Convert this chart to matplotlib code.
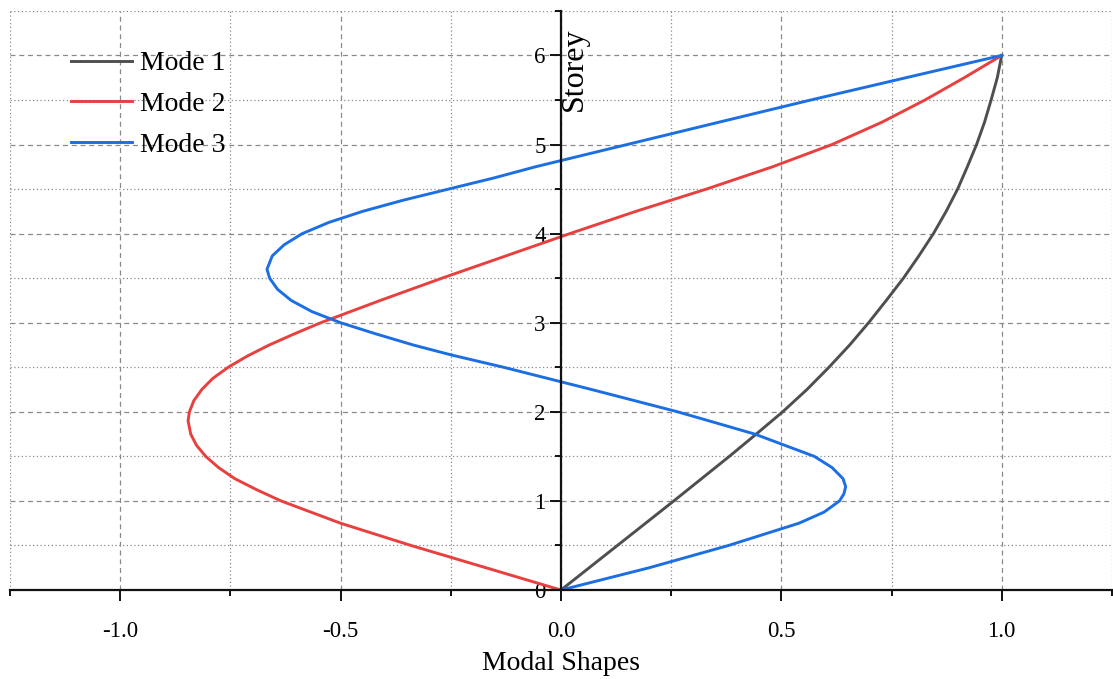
import matplotlib
matplotlib.use('Agg')
from matplotlib import pyplot as plt
from matplotlib.ticker import MultipleLocator, FormatStrFormatter

plt.rcParams['font.family'] = ['Liberation Serif', 'DejaVu Serif']
plt.rcParams['axes.unicode_minus'] = False

# values, each mode with its own storey levels
storey1 = [0, 0.25, 0.5, 0.75, 1.0, 1.25, 1.5, 1.75, 2.0, 2.25, 2.5, 2.75, 3.0, 3.25,
           3.5, 3.75, 4.0, 4.25, 4.5, 4.75, 5.0, 5.25, 5.5, 5.75, 6.0]
mode1 = [0, 0.064, 0.128, 0.192, 0.256, 0.319, 0.382, 0.443, 0.503, 0.558, 0.608, 0.655, 0.698, 0.738,
         0.777, 0.812, 0.845, 0.874, 0.900, 0.922, 0.943, 0.961, 0.976, 0.99, 1.0]

storey2 = [0, 0.25, 0.5, 0.75, 1.0, 1.125, 1.25, 1.375, 1.5, 1.625, 1.75, 1.9, 2.0, 2.125, 2.25, 2.375,
           2.5, 2.625, 2.75, 2.875, 3.0, 3.25, 3.5, 3.75, 4.0, 4.25, 4.5, 4.75, 5.0, 5.25, 5.5, 5.75, 6.0]
mode2 = [0, -0.17, -0.34, -0.50, -0.635, -0.69, -0.74, -0.777, -0.806, -0.827, -0.84, -0.846, -0.843, -0.833, -0.815, -0.79,
         -0.755, -0.712, -0.662, -0.605, -0.545, -0.41, -0.27, -0.125, 0.02, 0.17, 0.33, 0.48, 0.615, 0.728, 0.826, 0.915, 1.0]

storey3 = [0, 0.25, 0.5, 0.75, 0.875, 1.0, 1.08, 1.16, 1.25, 1.375, 1.5, 1.75, 2.0, 2.25, 2.5, 2.64, 2.75,
           2.875, 3.0, 3.125, 3.25, 3.375, 3.5, 3.6, 3.75, 3.875, 4.0, 4.125, 4.25, 4.375, 4.5, 4.625, 4.75,
           5.0, 5.25, 5.5, 5.75, 6.0]
mode3 = [0, 0.2, 0.38, 0.54, 0.597, 0.632, 0.642, 0.646, 0.64, 0.615, 0.575, 0.44, 0.265, 0.07, -0.13, -0.25, -0.335,
         -0.42, -0.50, -0.565, -0.612, -0.643, -0.661, -0.667, -0.655, -0.628, -0.587, -0.527, -0.45, -0.358, -0.255, -0.152, -0.058,
         0.15, 0.358, 0.567, 0.783, 1.0]

labels = ['Mode 1', 'Mode 2', 'Mode 3']
colors = ['#4f4f4f', '#e8403f', '#1b6fe2']

fig = plt.figure(figsize=(11.13, 6.79), dpi=100)
ax = fig.add_axes([0.009, 0.131, 0.99, 0.853])

for ys, xs, lab, c in zip([storey1, storey2, storey3], [mode1, mode2, mode3], labels, colors):
    ax.plot(xs, ys, color=c, lw=2.1, label=lab, solid_joinstyle='round')

ax.set_xlim(-1.25, 1.25)
ax.set_ylim(0, 6.5)

# axes cross at the origin
ax.spines['left'].set_position(('data', 0))
ax.spines['bottom'].set_position(('data', 0))
ax.spines['top'].set_visible(False)
ax.spines['right'].set_visible(False)
for s in ['left', 'bottom']:
    ax.spines[s].set_linewidth(1.6)
    ax.spines[s].set_color('#111111')

ax.xaxis.set_major_locator(MultipleLocator(0.5))
ax.xaxis.set_minor_locator(MultipleLocator(0.25))
ax.yaxis.set_major_locator(MultipleLocator(1))
ax.yaxis.set_minor_locator(MultipleLocator(0.5))
ax.xaxis.set_major_formatter(FormatStrFormatter('%.1f'))
ax.yaxis.set_major_formatter(FormatStrFormatter('%d'))

ax.tick_params(which='major', direction='out', length=8, width=1.4, color='#111111', labelsize=16.5)
ax.tick_params(which='minor', direction='out', length=4, width=1.4, color='#111111')
ax.tick_params(axis='x', which='major', pad=14)
ax.tick_params(axis='y', which='major', pad=3)

ax.grid(which='major', color='#8a8a8a', lw=0.9, linestyle=(0, (4, 3)))
ax.grid(which='minor', color='#8a8a8a', lw=0.9, linestyle=(0, (1, 2)))
ax.set_axisbelow(True)

ax.set_xlabel('Modal Shapes', fontsize=20)
ax.xaxis.set_label_coords(0.5, -0.105)
ax.set_ylabel('Storey', fontsize=23)
ax.yaxis.set_label_coords(0.525, 0.9)

ax.legend(loc='upper left', bbox_to_anchor=(0.045, 0.95), frameon=False, fontsize=20,
          handlelength=2.2, handletextpad=0.3, labelspacing=0.55, borderaxespad=0)

fig.savefig('out.png', dpi=100)
